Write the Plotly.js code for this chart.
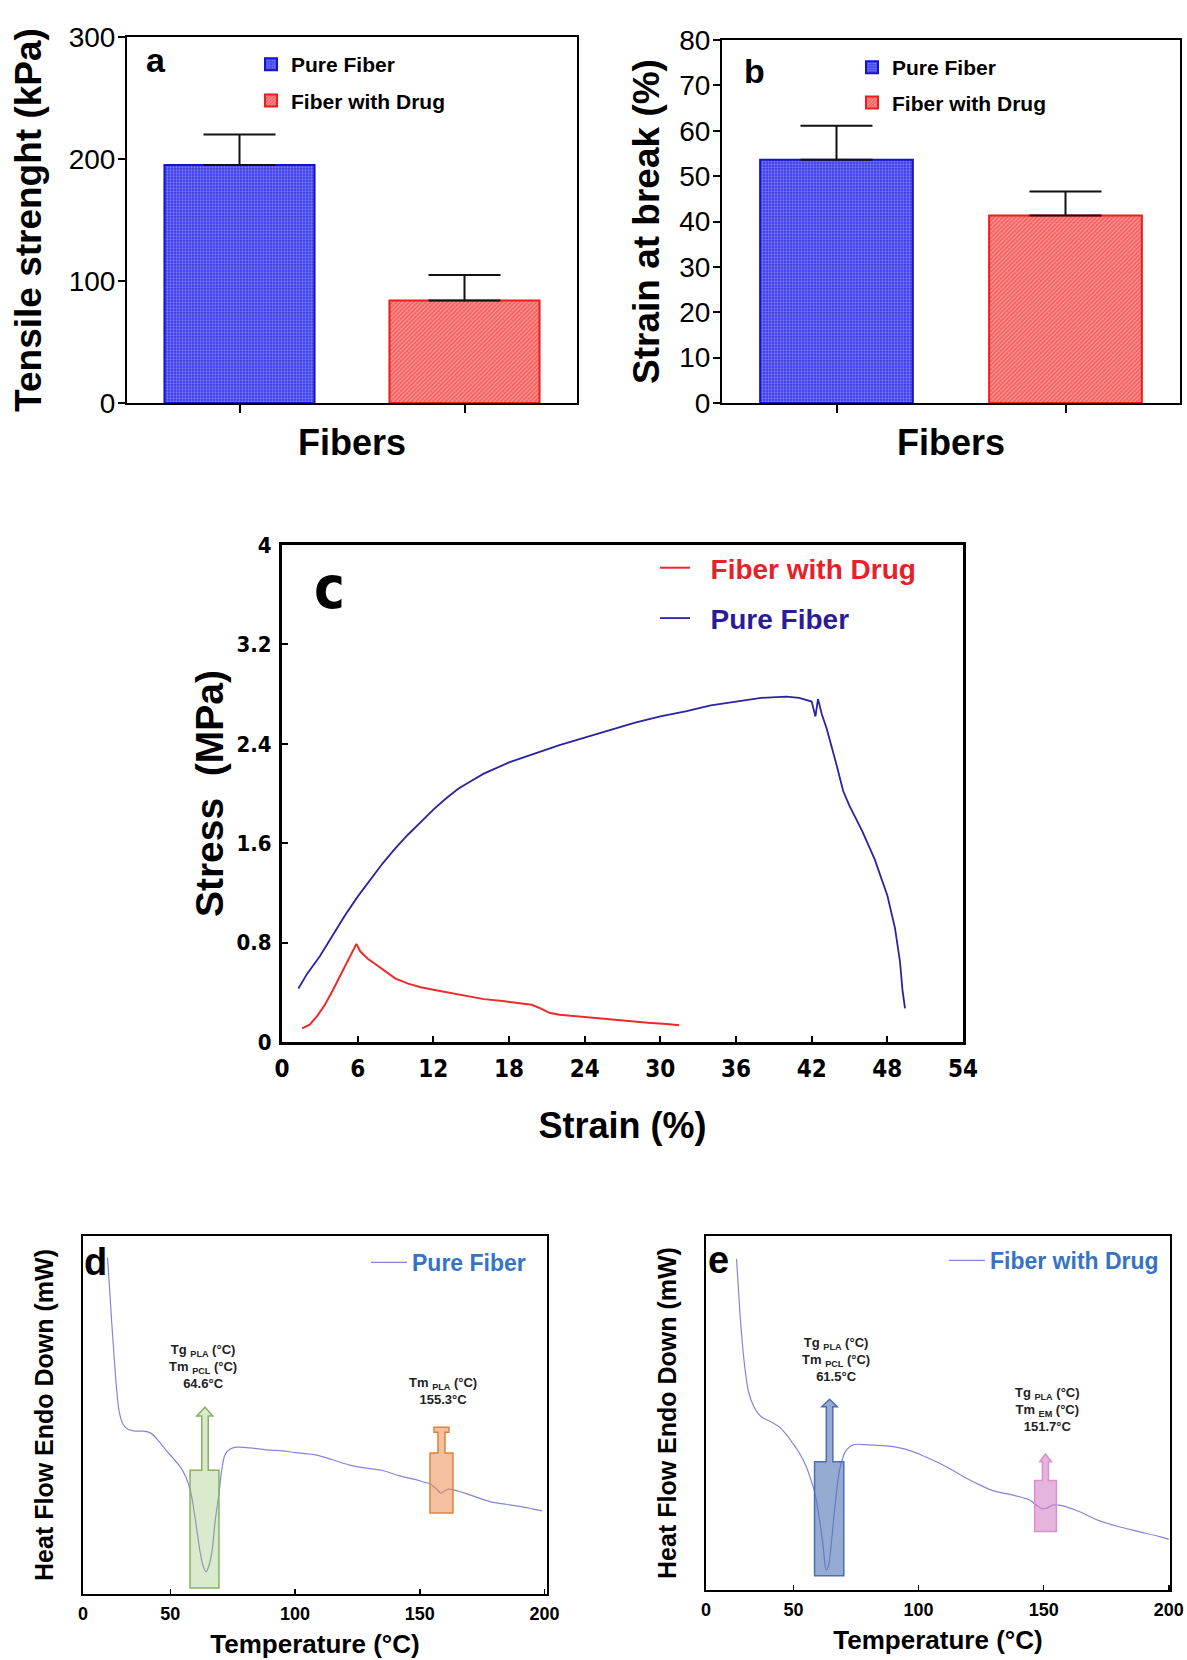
<!DOCTYPE html>
<html><head><meta charset="utf-8">
<script src="https://cdn.plot.ly/plotly-3.0.1.min.js"></script>
<style>html,body{margin:0;padding:0;background:#fff;} #chart{width:1187px;height:1660px;}</style>
</head><body><div id="chart"></div>
<script>
// ---------- DATA ----------
const fiberTypes = ['Pure Fiber', 'Fiber with Drug'];
const tensileMean = [195, 84];          // kPa
const tensileErr = [25, 21];
const strainBreakMean = [53.6, 41.3];   // %
const strainBreakErr = [7.5, 5.3];

const pureStrain = [1.3, 2, 3, 4, 5, 6, 7, 8, 9, 10, 11, 12, 13, 14, 15, 16, 18, 20, 22, 24, 26, 28, 30, 32, 34, 36, 38, 40, 41, 42, 42.3, 42.5, 42.8, 43.2, 43.6, 44, 44.5, 45, 46, 47, 48, 48.6, 49, 49.2, 49.4];
const pureStress = [0.43, 0.55, 0.69, 0.86, 1.02, 1.17, 1.31, 1.44, 1.56, 1.67, 1.77, 1.87, 1.96, 2.04, 2.10, 2.16, 2.25, 2.32, 2.39, 2.45, 2.51, 2.57, 2.62, 2.66, 2.71, 2.74, 2.77, 2.78, 2.77, 2.74, 2.62, 2.76, 2.64, 2.52, 2.38, 2.22, 2.02, 1.90, 1.70, 1.47, 1.18, 0.92, 0.65, 0.42, 0.27];
const drugStrain = [1.6, 2.2, 2.8, 3.4, 4.0, 4.6, 5.2, 5.6, 5.9, 6.2, 6.8, 7.5, 8.2, 9, 10, 11, 12, 13, 14.5, 16, 17.5, 19, 19.8, 20.5, 21.2, 22, 23.5, 25, 27, 29, 30.5, 31.5];
const drugStress = [0.11, 0.14, 0.21, 0.30, 0.41, 0.53, 0.64, 0.72, 0.79, 0.73, 0.67, 0.62, 0.57, 0.51, 0.47, 0.44, 0.42, 0.40, 0.37, 0.345, 0.33, 0.31, 0.30, 0.27, 0.235, 0.22, 0.205, 0.19, 0.175, 0.155, 0.145, 0.135];

const dscPureTemp = [24.8, 25.5, 26.5, 27.5, 28.5, 29.5, 31, 33, 36, 39, 42, 45, 48.5, 51, 54, 56, 58, 60, 62, 63.3, 64.3, 65.3, 66.6, 68, 69.5, 70.6, 72, 74, 76.6, 82, 90, 95, 100, 108.7, 115, 122, 130, 135, 142, 148, 152, 154, 156.5, 158.5, 160, 161.5, 164, 170, 175, 180, 185, 190, 195, 199];
const dscPureHeat = [0.94, 0.87, 0.76, 0.66, 0.57, 0.51, 0.475, 0.46, 0.455, 0.455, 0.45, 0.43, 0.40, 0.38, 0.355, 0.33, 0.29, 0.21, 0.115, 0.075, 0.062, 0.075, 0.114, 0.205, 0.28, 0.345, 0.39, 0.405, 0.41, 0.408, 0.402, 0.40, 0.395, 0.388, 0.375, 0.36, 0.35, 0.345, 0.33, 0.32, 0.312, 0.308, 0.295, 0.282, 0.288, 0.293, 0.29, 0.277, 0.265, 0.255, 0.25, 0.245, 0.238, 0.232];
const dscDrugTemp = [27.2, 27.8, 28.5, 29.5, 30.5, 32, 34, 37, 41, 44.4, 47, 49.7, 52.5, 55.1, 57, 58.4, 60.4, 61.7, 63.1, 64, 65.1, 66.4, 68.4, 70, 71.1, 73.7, 80, 87.1, 92, 97.7, 104, 111.1, 118, 124.4, 130, 137.7, 142, 144.4, 147, 149.7, 151.5, 153.7, 156, 159.1, 164.4, 170.7, 179.4, 188, 196.7, 200];
const dscDrugHeat = [0.935, 0.87, 0.79, 0.70, 0.63, 0.56, 0.52, 0.49, 0.475, 0.46, 0.44, 0.414, 0.385, 0.348, 0.31, 0.278, 0.198, 0.132, 0.056, 0.07, 0.132, 0.226, 0.339, 0.38, 0.395, 0.41, 0.41, 0.407, 0.402, 0.391, 0.372, 0.348, 0.32, 0.297, 0.28, 0.268, 0.26, 0.254, 0.24, 0.229, 0.232, 0.24, 0.24, 0.235, 0.221, 0.2, 0.18, 0.165, 0.15, 0.143];

const dscTickVals = [15, 50, 100, 150, 200];
const dscTickText = ['0', '50', '100', '150', '200'];
const stressTickVals = [0, 0.8, 1.6, 2.4, 3.2, 4];
const stressTickText = ['0', '0.8', '1.6', '2.4', '3.2', '4'];

const dscLabelsPure = ['Tg <sub>PLA</sub> (°C)<br>Tm <sub>PCL</sub> (°C)<br>64.6°C', 'Tm <sub>PLA</sub> (°C)<br>155.3°C'];
const dscLabelsDrug = ['Tg <sub>PLA</sub> (°C)<br>Tm <sub>PCL</sub> (°C)<br>61.5°C', 'Tg <sub>PLA</sub> (°C)<br>Tm <sub>EM</sub> (°C)<br>151.7°C'];

// ---------- LAYOUT HELPERS ----------
const W = 1187, H = 1660;
const dx = (a, b) => [a / W, b / W];
const dy = (top, bottom) => [1 - bottom / H, 1 - top / H];
const px = v => v / W;
const py = v => 1 - v / H;
const SANS = 'Liberation Sans, Arial, sans-serif';
const NARROW = '"Liberation Sans Narrow", "DejaVu Sans Condensed", "Liberation Sans", Arial, sans-serif';
const NBSP = '\u00a0';

const BLUE_BAR = { color: '#3a3aea', line: { color: '#1414c8', width: 2 },
  pattern: { shape: '.', fgcolor: '#b4b8ff', bgcolor: '#3a3aea', size: 3, solidity: 0.45, fillmode: 'overlay' } };
const RED_BAR = { color: '#ffa0a0', line: { color: '#ee1c1c', width: 2 },
  pattern: { shape: '/', fgcolor: '#ee1c1c', bgcolor: '#ffa8a8', size: 3, solidity: 0.7, fillmode: 'overlay' } };

function barTrace(i, means, errs, xa, ya, leg) {
  return {
    type: 'bar', x: [fiberTypes[i]], y: [means[i]], name: fiberTypes[i],
    xaxis: xa, yaxis: ya, legend: leg, legendgroup: leg + i,
    width: 0.667, marker: i === 0 ? BLUE_BAR : RED_BAR,
    error_y: { type: 'data', symmetric: false, array: [errs[i]], arrayminus: [0], color: '#111', thickness: 2, width: 36 }
  };
}

const traces = [
  barTrace(0, tensileMean, tensileErr, 'x', 'y', 'legend'),
  barTrace(1, tensileMean, tensileErr, 'x', 'y', 'legend'),
  barTrace(0, strainBreakMean, strainBreakErr, 'x2', 'y2', 'legend2'),
  barTrace(1, strainBreakMean, strainBreakErr, 'x2', 'y2', 'legend2'),
  { type: 'scatter', mode: 'lines', x: drugStrain, y: drugStress, xaxis: 'x3', yaxis: 'y3', legend: 'legend3', legendgroup: 'c1',
    name: NBSP + NBSP + '<span style="color:#e8202a">' + fiberTypes[1] + '</span>', line: { color: '#ec2a2a', width: 2 } },
  { type: 'scatter', mode: 'lines', x: pureStrain, y: pureStress, xaxis: 'x3', yaxis: 'y3', legend: 'legend3', legendgroup: 'c2',
    name: NBSP + NBSP + '<span style="color:#2a1c98">' + fiberTypes[0] + '</span>', line: { color: '#2a24a0', width: 1.8 } },
  { type: 'scatter', mode: 'lines', x: dscPureTemp, y: dscPureHeat, xaxis: 'x4', yaxis: 'y4', legend: 'legend4', legendgroup: 'd',
    name: fiberTypes[0], line: { color: '#8585d8', width: 1.2, shape: 'spline' } },
  { type: 'scatter', mode: 'lines', x: dscDrugTemp, y: dscDrugHeat, xaxis: 'x5', yaxis: 'y5', legend: 'legend5', legendgroup: 'e',
    name: fiberTypes[1], line: { color: '#8585d8', width: 1.2, shape: 'spline' } }
];

function boxAxisBase(lw) {
  return { showline: true, linecolor: '#000', linewidth: lw, mirror: true, showgrid: false, zeroline: false, automargin: false };
}

// DSC marker boxes (annotation geometry, temperature / heat-flow units)
function arrowBox(m) {
  const mid = (m.s0 + m.s1) / 2;
  let p = `M${m.x0},${m.y0} L${m.x0},${m.y1} L${m.s0},${m.y1} L${m.s0},${m.st} `;
  if (m.kind === 'arrow') {
    p += `L${m.h0},${m.st} L${mid},${m.tip} L${m.h1},${m.st} `;
  } else {
    p += `L${m.h0},${m.st} L${m.h0},${m.tip} L${m.h1},${m.tip} L${m.h1},${m.st} `;
  }
  p += `L${m.s1},${m.st} L${m.s1},${m.y1} L${m.x1},${m.y1} L${m.x1},${m.y0} Z`;
  return { type: 'path', path: p, xref: m.xref, yref: m.yref, fillcolor: m.fill, line: { color: m.lc, width: 1.5 }, layer: 'above' };
}
const markerBoxes = [
  { xref: 'x4', yref: 'y4', kind: 'arrow', x0: 57.9, x1: 69.5, y0: 0.017, y1: 0.346, s0: 62.6, s1: 65.2, st: 0.497, h0: 60.6, h1: 67.0, tip: 0.522, fill: 'rgba(150,195,110,0.35)', lc: '#86b060' },
  { xref: 'x4', yref: 'y4', kind: 'cap', x0: 154.1, x1: 163.3, y0: 0.226, y1: 0.394, s0: 157.3, s1: 160.1, st: 0.452, h0: 155.7, h1: 161.7, tip: 0.466, fill: 'rgba(235,140,80,0.55)', lc: '#e0803c' },
  { xref: 'x5', yref: 'y5', kind: 'arrow', x0: 58.4, x1: 70.1, y0: 0.04, y1: 0.362, s0: 63.1, s1: 65.7, st: 0.518, h0: 61.3, h1: 67.5, tip: 0.539, fill: 'rgba(80,115,180,0.6)', lc: '#4a6fb0' },
  { xref: 'x5', yref: 'y5', kind: 'arrow', x0: 146.4, x1: 155.1, y0: 0.165, y1: 0.309, s0: 149.5, s1: 151.9, st: 0.362, h0: 148.4, h1: 153.1, tip: 0.384, fill: 'rgba(210,120,195,0.55)', lc: '#d890cc' }
];

const annFontSmall = { family: SANS, size: 13, color: '#222', weight: 700 };
const annotations = [
  { xref: 'paper', yref: 'paper', x: px(144), y: py(60), xanchor: 'left', yanchor: 'middle', text: 'a', showarrow: false, font: { family: SANS, size: 34, weight: 700, color: '#000' } },
  { xref: 'paper', yref: 'paper', x: px(742), y: py(71), xanchor: 'left', yanchor: 'middle', text: 'b', showarrow: false, font: { family: SANS, size: 34, weight: 700, color: '#000' } },
  { xref: 'paper', yref: 'paper', x: px(312), y: py(588), xanchor: 'left', yanchor: 'middle', text: 'c', showarrow: false, font: { family: NARROW, size: 58, weight: 700, color: '#000' } },
  { xref: 'paper', yref: 'paper', x: px(82), y: py(1262), xanchor: 'left', yanchor: 'middle', text: 'd', showarrow: false, font: { family: SANS, size: 38, weight: 700, color: '#000' } },
  { xref: 'paper', yref: 'paper', x: px(706), y: py(1260), xanchor: 'left', yanchor: 'middle', text: 'e', showarrow: false, font: { family: SANS, size: 38, weight: 700, color: '#000' } },
  { xref: 'x4', yref: 'y4', x: 63.2, y: 0.635, text: dscLabelsPure[0], showarrow: false, font: annFontSmall },
  { xref: 'x4', yref: 'y4', x: 159.3, y: 0.567, text: dscLabelsPure[1], showarrow: false, font: annFontSmall },
  { xref: 'x5', yref: 'y5', x: 67.1, y: 0.65, text: dscLabelsDrug[0], showarrow: false, font: annFontSmall },
  { xref: 'x5', yref: 'y5', x: 151.7, y: 0.511, text: dscLabelsDrug[1], showarrow: false, font: annFontSmall }
];

const legBase = { bgcolor: 'rgba(0,0,0,0)', borderwidth: 0, xanchor: 'left', yanchor: 'top', traceorder: 'grouped', tracegroupgap: 6 };

const layout = {
  width: W, height: H, margin: { l: 0, r: 0, t: 0, b: 0 }, paper_bgcolor: '#fff', plot_bgcolor: 'rgba(0,0,0,0)',
  barmode: 'overlay', font: { family: SANS, color: '#000' },
  // panel a
  xaxis: Object.assign(boxAxisBase(2), { domain: dx(127, 577), anchor: 'y', type: 'category', categoryorder: 'array', categoryarray: fiberTypes,
    range: [-0.5, 1.5], ticks: 'outside', ticklen: 8, tickwidth: 2, tickcolor: '#000', showticklabels: false,
    title: { text: 'Fibers', font: { family: SANS, size: 36, weight: 700 }, standoff: 18 } }),
  yaxis: Object.assign(boxAxisBase(2), { domain: dy(37, 403), anchor: 'x', range: [0, 300], tickvals: [0, 100, 200, 300],
    ticks: 'outside', ticklen: 7, tickwidth: 2, tickcolor: '#000', tickfont: { family: SANS, size: 28 }, ticklabelstandoff: -3,
    title: { text: 'Tensile strenght (kPa)', font: { family: SANS, size: 37, weight: 700 }, standoff: 16 } }),
  // panel b
  xaxis2: Object.assign(boxAxisBase(2), { domain: dx(722, 1180), anchor: 'y2', type: 'category', categoryorder: 'array', categoryarray: fiberTypes,
    range: [-0.5, 1.5], ticks: 'outside', ticklen: 8, tickwidth: 2, tickcolor: '#000', showticklabels: false,
    title: { text: 'Fibers', font: { family: SANS, size: 36, weight: 700 }, standoff: 18 } }),
  yaxis2: Object.assign(boxAxisBase(2), { domain: dy(40, 403), anchor: 'x2', range: [0, 80], dtick: 10,
    ticks: 'outside', ticklen: 7, tickwidth: 2, tickcolor: '#000', tickfont: { family: SANS, size: 28 }, ticklabelstandoff: -3,
    title: { text: 'Strain at break (%)', font: { family: SANS, size: 37, weight: 700 }, standoff: 8 } }),
  // panel c
  xaxis3: Object.assign(boxAxisBase(3), { domain: dx(282, 963), anchor: 'y3', range: [0, 54], dtick: 6,
    ticks: 'inside', ticklen: 6, tickwidth: 2, tickcolor: '#000', ticklabelstandoff: 3,
    tickfont: { family: NARROW, size: 24, weight: 700 },
    title: { text: 'Strain (%)', font: { family: SANS, size: 36, weight: 700 }, standoff: 32 } }),
  yaxis3: Object.assign(boxAxisBase(3), { domain: dy(545, 1042), anchor: 'x3', range: [0, 4], tickvals: stressTickVals, ticktext: stressTickText,
    ticks: 'inside', ticklen: 6, tickwidth: 2, tickcolor: '#000', ticklabelstandoff: 3,
    tickfont: { family: NARROW, size: 22, weight: 700 },
    title: { text: 'Stress  (MPa)', font: { family: SANS, size: 39, weight: 700 }, standoff: 1 } }),
  // panel d
  xaxis4: Object.assign(boxAxisBase(2), { domain: dx(83, 547), anchor: 'y4', range: [15, 201], tickvals: dscTickVals, ticktext: dscTickText,
    ticks: 'inside', ticklen: 5, tickwidth: 1.5, tickcolor: '#000', ticklabelstandoff: 2,
    tickfont: { family: SANS, size: 18, weight: 700 },
    title: { text: 'Temperature (°C)', font: { family: SANS, size: 26, weight: 700 }, standoff: 12 } }),
  yaxis4: Object.assign(boxAxisBase(2), { domain: dy(1236, 1594), anchor: 'x4', range: [0, 1], showticklabels: false, ticks: '',
    title: { text: 'Heat Flow Endo Down (mW)', font: { family: SANS, size: 25, weight: 700 }, standoff: 20 } }),
  // panel e
  xaxis5: Object.assign(boxAxisBase(2), { domain: dx(706, 1170), anchor: 'y5', range: [15, 200.5], tickvals: dscTickVals, ticktext: dscTickText,
    ticks: 'inside', ticklen: 5, tickwidth: 1.5, tickcolor: '#000', ticklabelstandoff: 2,
    tickfont: { family: SANS, size: 18, weight: 700 },
    title: { text: 'Temperature (°C)', font: { family: SANS, size: 26, weight: 700 }, standoff: 12 } }),
  yaxis5: Object.assign(boxAxisBase(2), { domain: dy(1236, 1590), anchor: 'x5', range: [0, 1], showticklabels: false, ticks: '',
    title: { text: 'Heat Flow Endo Down (mW)', font: { family: SANS, size: 25, weight: 700 }, standoff: 20 } }),
  legend: Object.assign({}, legBase, { x: px(251), y: py(44), font: { family: SANS, size: 21, weight: 700, color: '#000' } }),
  legend2: Object.assign({}, legBase, { x: px(852), y: py(47), tracegroupgap: 5, font: { family: SANS, size: 21, weight: 700, color: '#000' } }),
  legend3: Object.assign({}, legBase, { x: px(655), y: py(543), tracegroupgap: 11, font: { family: SANS, size: 28, weight: 700, color: '#000' } }),
  legend4: Object.assign({}, legBase, { x: px(366), y: py(1241), itemwidth: 36, font: { family: SANS, size: 23, weight: 700, color: '#3574c4' } }),
  legend5: Object.assign({}, legBase, { x: px(944), y: py(1239), itemwidth: 36, font: { family: SANS, size: 23, weight: 700, color: '#3574c4' } }),
  shapes: markerBoxes.map(arrowBox),
  annotations: annotations
};

Plotly.newPlot('chart', traces, layout, { displayModeBar: false, staticPlot: true });
</script>
</body></html>
